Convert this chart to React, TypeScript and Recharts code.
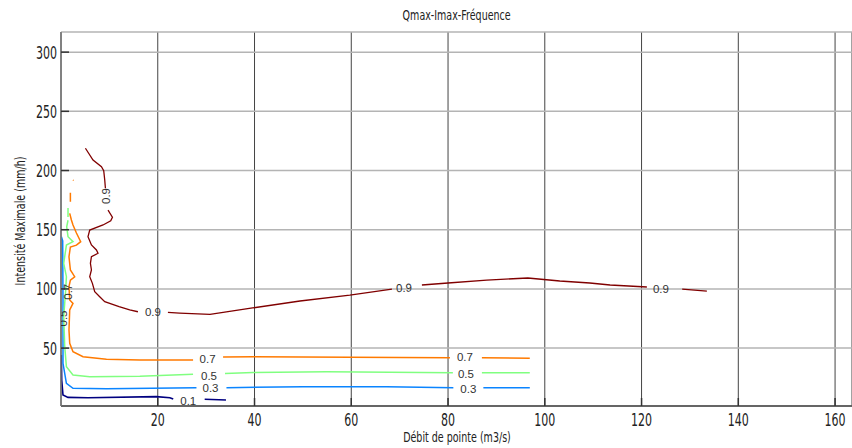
import React from 'react';
import {
  ComposedChart,
  Line,
  Scatter,
  XAxis,
  YAxis,
  CartesianGrid,
} from 'recharts';

// ticks
const xTicks = [20, 40, 60, 80, 100, 120, 140, 160];
const yTicks = [50, 100, 150, 200, 250, 300];

// contour 0.9 (débit, intensité) - null = gap for label
const q09 = [5.05, 6.62, 8.36, 8.83, 9.04, 9.18, 9.4, 9.72, 10.63, 10.28, 8.69, 5.94, 5.58, 6.29, 7.32, 7.65, 6.29, 6.08, 6.29, 5.94, 6.49, 6.97, 8.0, 9.04, 12.0, 14.2, 15.9, 19.0, 22.1, 24.5, 30.8, 39.6, 49.4, 59.7, 68.4, 71.0, 74.6, 80.0, 88.0, 96.5, 103.1, 109.3, 113.5, 121.1, 124.0, 128.4, 133.5];
const i09 = [218.8, 208.9, 203.2, 199.8, 192.0, 185.0, null, 166.6, 160.5, 157.6, 154.0, 149.7, 144.1, 137.1, 132.9, 130.1, 127.2, 121.6, 116.0, 110.3, 104.7, 97.7, 93.4, 89.2, 85.0, 82.2, 80.7, null, 80.2, 79.6, 78.5, 83.9, 89.8, 94.8, 99.9, null, 103.3, 105.0, 107.5, 109.2, 106.7, 105.0, 103.3, 101.6, null, 99.9, 98.2];

// contour 0.7
const q07 = [2.48, 2.6, 2.3, 1.94, 1.94, 1.9, 1.8, 2.15, 2.48, 3.19, 4.07, 3.19, 1.94, 1.65, 1.94, 2.83, 1.94, 1.65, 1.8, 2.48, 1.8, 1.65, 1.8, 2.48, 4.55, 9.39, 16.3, 27.3, 30.3, 33.5, 39.7, 59.7, 80.4, 83.5, 87.0, 96.9];
const i07 = [192.0, 191.6, null, 181.3, 173.7, null, 163.8, 158.2, 154.0, 147.2, 139.9, 137.0, 135.4, 127.2, 116.0, 110.3, 107.4, 101.9, 90.6, 87.8, 82.2, 65.3, 54.1, 47.0, 42.7, 40.5, 39.9, 40.0, null, 42.5, 42.7, 42.2, 41.9, null, 41.9, 41.4];

// contour 0.5
const q05 = [1.45, 1.45, 1.4, 1.45, 1.18, 1.45, 2.48, 1.12, 0.56, 1.12, 0.97, 0.56, 0.77, 1.12, 2.48, 5.94, 16.3, 27.3, 30.6, 33.9, 39.7, 54.9, 81.0, 83.7, 87.0, 96.9];
const i05 = [168.3, 160.7, null, 158.0, 152.5, 144.1, 139.9, 137.1, 121.6, 110.3, 99.1, 76.5, 51.2, 34.3, 27.3, 25.8, 26.2, 28.0, null, 28.6, 29.4, 30.1, 29.2, null, 29.2, 29.2];

// contour 0.3
const q03 = [0.08, 0.35, 0.41, 0.41, 1.12, 2.48, 9.39, 28.0, 30.9, 34.2, 50.0, 67.3, 81.1, 84.2, 87.3, 96.9];
const i03 = [144.1, 140.5, 90.6, 37.2, 20.3, 16.0, 15.6, 16.6, null, 16.6, 17.4, 17.4, 16.6, null, 16.6, 16.6];

// contour 0.1
const q01 = [0.08, 0.15, 0.41, 1.45, 5.58, 19.7, 22.5, 23.2, 26.3, 29.7, 34.1];
const i01 = [44.2, 23.1, 10.4, 8.4, 8.1, 9.0, 8.1, 7.0, null, 6.8, 6.2];

// contour labels
const labelQ = [9.3, 19.0, 70.9, 124.0, 30.3, 83.5, 30.6, 83.7, 30.9, 84.2, 26.3, 1.45, 0.45];
const labelI = [178.5, 80.5, 100.8, 99.9, 40.9, 42.5, 26.4, 28.2, 16.0, 15.5, 5.6, 97.6, 75.0];
const labelText = ['0.9', '0.9', '0.9', '0.9', '0.7', '0.7', '0.5', '0.5', '0.3', '0.3', '0.1', '0.7', '0.5'];
const labelAngle = [-90, 0, -3, 0, 0, 0, 0, 0, 0, 0, 0, -90, -90];

const toPoints = (q: number[], i: (number | null)[]) => q.map((x, k) => ({ x, y: i[k] }));

const contours = [
  { level: '0.1', color: '#000080', width: 1.6, data: toPoints(q01, i01) },
  { level: '0.3', color: '#0a84ff', width: 1.5, data: toPoints(q03, i03) },
  { level: '0.5', color: '#80ff80', width: 1.5, data: toPoints(q05, i05) },
  { level: '0.7', color: '#ff7a00', width: 1.5, data: toPoints(q07, i07) },
  { level: '0.9', color: '#800000', width: 1.3, data: toPoints(q09, i09) },
];

const labels = labelQ.map((x, k) => ({ x, y: labelI[k], text: labelText[k], angle: labelAngle[k] }));

// tall narrow look of the original font
const font = "'DejaVu Sans', sans-serif";
const squeeze = 0.63;

const ContourLabel = (props: any) => {
  const { cx, cy, payload } = props;
  if (cx == null || cy == null) return null;
  return (
    <text
      x={cx}
      y={cy}
      textAnchor="middle"
      dominantBaseline="central"
      transform={payload.angle ? `rotate(${payload.angle} ${cx} ${cy})` : undefined}
      fontFamily="'Liberation Sans', Arial, sans-serif"
      fontSize={11.5}
      fill="#333"
    >
      {payload.text}
    </text>
  );
};

const XTick = (props: any) => {
  const { x, y, payload } = props;
  return (
    <g transform={`translate(${x} ${y}) scale(${squeeze} 1)`}>
      <text x={0} y={0} textAnchor="middle" dominantBaseline="hanging" fontFamily={font} fontSize={17.5} fill="#222">
        {payload.value}
      </text>
    </g>
  );
};

const YTick = (props: any) => {
  const { x, y, payload } = props;
  return (
    <g transform={`translate(${x} ${y}) scale(${squeeze} 1)`}>
      <text x={0} y={0} textAnchor="end" dominantBaseline="central" fontFamily={font} fontSize={17.5} fill="#222">
        {payload.value}
      </text>
    </g>
  );
};

const YLabel = () => {
  const cx = 20;
  const cy = 221;
  return (
    <g transform={`translate(${cx} ${cy}) rotate(-90) scale(0.68 1)`}>
      <text x={0} y={0} textAnchor="middle" dominantBaseline="central" fontFamily={font} fontSize={14} fill="#222">
        Intensité Maximale  (mm/h)
      </text>
    </g>
  );
};

const XLabel = () => (
  <g transform="translate(457 437) scale(0.68 1)">
    <text x={0} y={0} textAnchor="middle" dominantBaseline="central" fontFamily={font} fontSize={14} fill="#222">
      Débit de pointe (m3/s)
    </text>
  </g>
);

export default function App() {
  return (
    <div style={{ position: 'absolute', left: 0, top: 0, width: 852, height: 448, background: '#fff' }}>
      <div
        style={{
          position: 'absolute',
          left: 61,
          width: 791,
          top: 6,
          textAlign: 'center',
          fontFamily: font,
          fontSize: 14,
          color: '#222',
          lineHeight: '18px',
          transform: 'scaleX(0.68)',
          transformOrigin: '396px 0',
        }}
      >
        Qmax-Imax-Fréquence
      </div>
      <ComposedChart width={852} height={448} margin={{ top: 32, right: 0, bottom: 0, left: 0 }}>
        <CartesianGrid horizontal={false} stroke="#444" strokeWidth={1} />
        <CartesianGrid vertical={false} stroke="#b4b4b4" strokeWidth={1.5} />
        <XAxis
          type="number"
          dataKey="x"
          domain={[0, 163.5]}
          ticks={xTicks}
          allowDataOverflow
          height={42}
          tickSize={-8}
          tickMargin={15}
          axisLine={{ stroke: '#444', strokeWidth: 1.5 }}
          tickLine={{ stroke: '#333', strokeWidth: 1.5 }}
          tick={<XTick />}
          label={<XLabel />}
        />
        <YAxis
          type="number"
          dataKey="y"
          domain={[1.1, 317]}
          ticks={yTicks}
          allowDataOverflow
          width={61}
          tickSize={-8}
          tickMargin={12}
          axisLine={{ stroke: '#777', strokeWidth: 1.5 }}
          tickLine={{ stroke: '#333', strokeWidth: 1.5 }}
          tick={<YTick />}
          label={<YLabel />}
        />
        {contours.map((c) => (
          <Line
            key={c.level}
            data={c.data}
            dataKey="y"
            type="linear"
            stroke={c.color}
            strokeWidth={c.width}
            dot={false}
            activeDot={false}
            connectNulls={false}
            isAnimationActive={false}
          />
        ))}
        <Scatter data={labels} dataKey="y" shape={<ContourLabel />} isAnimationActive={false} />
      </ComposedChart>
    </div>
  );
}
